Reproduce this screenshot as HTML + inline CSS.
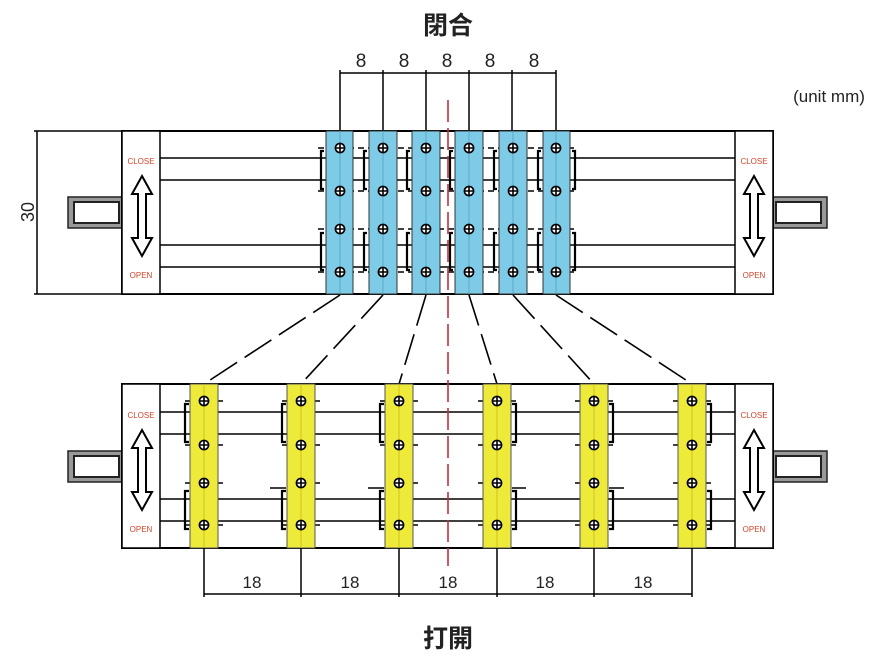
<!DOCTYPE html>
<html><head><meta charset="utf-8"><style>
body{margin:0;background:#fff}
svg{display:block}
text{font-family:"Liberation Sans","Noto Sans CJK SC",sans-serif}
</style></head><body>
<svg width="887" height="658" viewBox="0 0 887 658" xmlns="http://www.w3.org/2000/svg">
<defs>
<g id="sc"><circle r="4.6" fill="#fff" stroke="#000" stroke-width="1.6"/><path d="M-4.6 0H4.6M0 -4.6V4.6" stroke="#000" stroke-width="1.6"/></g>
<polygon id="arr" points="0,0 10,18 4,18 4,62 10,62 0,80 -10,62 -4,62 -4,18 -10,18" fill="#fff" stroke="#000" stroke-width="2"/>
<g id="knobL"><rect x="68" y="197" width="54" height="31" fill="#999" stroke="#222" stroke-width="1.5"/><rect x="74" y="202" width="45" height="21" fill="#fff" stroke="#222" stroke-width="2"/></g>
</defs>

<text x="448" y="34" font-size="25" font-weight="bold" text-anchor="middle" fill="#222">閉合</text>
<text x="448" y="647" font-size="25" font-weight="bold" text-anchor="middle" fill="#222">打開</text>
<text x="829" y="102" font-size="17" text-anchor="middle" fill="#222">(unit mm)</text>

<path d="M37 131V294M34 131H122M34 294H122" stroke="#000" stroke-width="1.5" fill="none"/>
<text x="28" y="212" font-size="18" text-anchor="middle" transform="rotate(-90 28 212)" fill="#222" dy="6">30</text>

<g stroke="#000" stroke-width="1.5">
<path d="M340 73H556"/>
<path d="M340 70V131M383 70V131M426 70V131M469 70V131M512 70V131M556 70V131"/>
</g>
<g font-size="19" text-anchor="middle" fill="#222">
<text x="361" y="67">8</text><text x="404" y="67">8</text><text x="447" y="67">8</text><text x="490" y="67">8</text><text x="534" y="67">8</text>
</g>

<use href="#knobL"/>
<use href="#knobL" transform="translate(895 0) scale(-1 1)"/>
<rect x="122" y="131" width="651" height="163" fill="none" stroke="#000" stroke-width="2"/>
<rect x="122" y="131" width="38" height="163" fill="#fff" stroke="#000" stroke-width="1.5"/>
<rect x="735" y="131" width="38" height="163" fill="#fff" stroke="#000" stroke-width="1.5"/>
<g stroke="#000" stroke-width="1.5"><path d="M160 158H735M160 180H735M160 245H735M160 267H735"/></g>
<g stroke="#000" stroke-width="1.6" stroke-dasharray="6 4"><path d="M318 148H578M318 191H578M318 229H578M318 272H578"/></g>
<g stroke="#000" stroke-width="2.2" fill="none">
<path d="M324 151H321V189H324M324 233H321V270H324"/>
<path d="M367 151H364V189H367M367 233H364V270H367"/>
<path d="M410 151H407V189H410M410 233H407V270H410"/>
<path d="M453 151H450V189H453M453 233H450V270H453"/>
<path d="M497 151H494V189H497M497 233H494V270H497"/>
<path d="M541 151H538V189H541M541 233H538V270H541"/>
<path d="M572 151H575V189H572M572 233H575V270H572"/>
</g>
<g fill="#7dcbe6" stroke="#333" stroke-width="1">
<rect x="326" y="131" width="27" height="163"/><rect x="369" y="131" width="28" height="163"/>
<rect x="412" y="131" width="28" height="163"/><rect x="455" y="131" width="28" height="163"/>
<rect x="499" y="131" width="28" height="163"/><rect x="543" y="131" width="27" height="163"/>
</g>
<g stroke="#5aa0bb" stroke-width="0.8"><path d="M340 131V294M383 131V294M426 131V294M469 131V294M513 131V294M556 131V294"/></g>
<g>
<use href="#sc" x="340" y="148"/><use href="#sc" x="340" y="191"/><use href="#sc" x="340" y="229"/><use href="#sc" x="340" y="272"/>
<use href="#sc" x="383" y="148"/><use href="#sc" x="383" y="191"/><use href="#sc" x="383" y="229"/><use href="#sc" x="383" y="272"/>
<use href="#sc" x="426" y="148"/><use href="#sc" x="426" y="191"/><use href="#sc" x="426" y="229"/><use href="#sc" x="426" y="272"/>
<use href="#sc" x="469" y="148"/><use href="#sc" x="469" y="191"/><use href="#sc" x="469" y="229"/><use href="#sc" x="469" y="272"/>
<use href="#sc" x="513" y="148"/><use href="#sc" x="513" y="191"/><use href="#sc" x="513" y="229"/><use href="#sc" x="513" y="272"/>
<use href="#sc" x="556" y="148"/><use href="#sc" x="556" y="191"/><use href="#sc" x="556" y="229"/><use href="#sc" x="556" y="272"/>
</g>
<use href="#arr" x="142" y="176"/><use href="#arr" x="754" y="176"/>
<g font-size="8" fill="#d0452a" text-anchor="middle">
<text x="141" y="164">CLOSE</text><text x="141" y="278">OPEN</text>
<text x="754" y="164">CLOSE</text><text x="754" y="278">OPEN</text>
</g>

<g stroke="#000" stroke-width="1.6" stroke-dasharray="32 9">
<path d="M340 295L204 384M383 295L301 384M426 295L399 384M469 295L497 384M513 295L594 384M556 295L692 384"/>
</g>

<g transform="translate(0 254)"><use href="#knobL"/><use href="#knobL" transform="translate(895 0) scale(-1 1)"/></g>
<rect x="122" y="384" width="651" height="164" fill="none" stroke="#000" stroke-width="2"/>
<rect x="122" y="384" width="38" height="164" fill="#fff" stroke="#000" stroke-width="1.5"/>
<rect x="735" y="384" width="38" height="164" fill="#fff" stroke="#000" stroke-width="1.5"/>
<g stroke="#000" stroke-width="1.5"><path d="M160 412H735M160 434H735M160 499H735M160 521H735"/></g>
<g stroke="#000" stroke-width="1.6">
<path d="M185 401H191M217 401H223M185 445H191M217 445H223M185 483H191M217 483H223M185 525H191M217 525H223"/>
<path d="M282 401H288M314 401H320M282 445H288M314 445H320M270 488H286M314 483H320M282 525H288M314 525H320"/>
<path d="M380 401H386M412 401H418M380 445H386M412 445H418M368 488H384M412 483H418M380 525H386M412 525H418"/>
<path d="M478 401H484M510 401H516M478 445H484M510 445H516M478 483H484M512 488H526M478 525H484M510 525H516"/>
<path d="M575 401H581M607 401H613M575 445H581M607 445H613M575 483H581M609 488H624M575 525H581M607 525H613"/>
<path d="M673 401H679M705 401H711M673 445H679M705 445H711M673 483H679M705 483H711M673 525H679M705 525H711"/>
</g>
<g stroke="#000" stroke-width="2.2" fill="none">
<path d="M189 404H185V442H189M189 491H185V529H189"/>
<path d="M286 404H282V442H286M286 491H282V529H286"/>
<path d="M384 404H380V442H384M384 491H380V529H384"/>
<path d="M512 404H516V442H512M512 491H516V529H512"/>
<path d="M609 404H613V442H609M609 491H613V529H609"/>
<path d="M707 404H711V442H707M707 491H711V529H707"/>
</g>
<g fill="#eeea3a" stroke="#555" stroke-width="1">
<rect x="190" y="384" width="28" height="164"/><rect x="287" y="384" width="28" height="164"/>
<rect x="385" y="384" width="28" height="164"/><rect x="483" y="384" width="28" height="164"/>
<rect x="580" y="384" width="28" height="164"/><rect x="678" y="384" width="28" height="164"/>
</g>
<g stroke="#c8b820" stroke-width="0.8"><path d="M204 384V548M301 384V548M399 384V548M497 384V548M594 384V548M692 384V548"/></g>
<g>
<use href="#sc" x="204" y="401"/><use href="#sc" x="204" y="445"/><use href="#sc" x="204" y="483"/><use href="#sc" x="204" y="525"/>
<use href="#sc" x="301" y="401"/><use href="#sc" x="301" y="445"/><use href="#sc" x="301" y="483"/><use href="#sc" x="301" y="525"/>
<use href="#sc" x="399" y="401"/><use href="#sc" x="399" y="445"/><use href="#sc" x="399" y="483"/><use href="#sc" x="399" y="525"/>
<use href="#sc" x="497" y="401"/><use href="#sc" x="497" y="445"/><use href="#sc" x="497" y="483"/><use href="#sc" x="497" y="525"/>
<use href="#sc" x="594" y="401"/><use href="#sc" x="594" y="445"/><use href="#sc" x="594" y="483"/><use href="#sc" x="594" y="525"/>
<use href="#sc" x="692" y="401"/><use href="#sc" x="692" y="445"/><use href="#sc" x="692" y="483"/><use href="#sc" x="692" y="525"/>
</g>
<use href="#arr" x="142" y="430"/><use href="#arr" x="754" y="430"/>
<g font-size="8" fill="#d0452a" text-anchor="middle">
<text x="141" y="418">CLOSE</text><text x="141" y="532">OPEN</text>
<text x="754" y="418">CLOSE</text><text x="754" y="532">OPEN</text>
</g>

<g stroke="#000" stroke-width="1.5">
<path d="M204 594H692"/>
<path d="M204 548V597M301 548V597M399 548V597M497 548V597M594 548V597M692 548V597"/>
</g>
<g font-size="17" text-anchor="middle" fill="#222">
<text x="252" y="588">18</text><text x="350" y="588">18</text><text x="448" y="588">18</text><text x="545" y="588">18</text><text x="643" y="588">18</text>
</g>

<path d="M448 100V566" stroke="#c4303a" stroke-width="1.6" stroke-dasharray="22 6"/>
</svg>
</body></html>
